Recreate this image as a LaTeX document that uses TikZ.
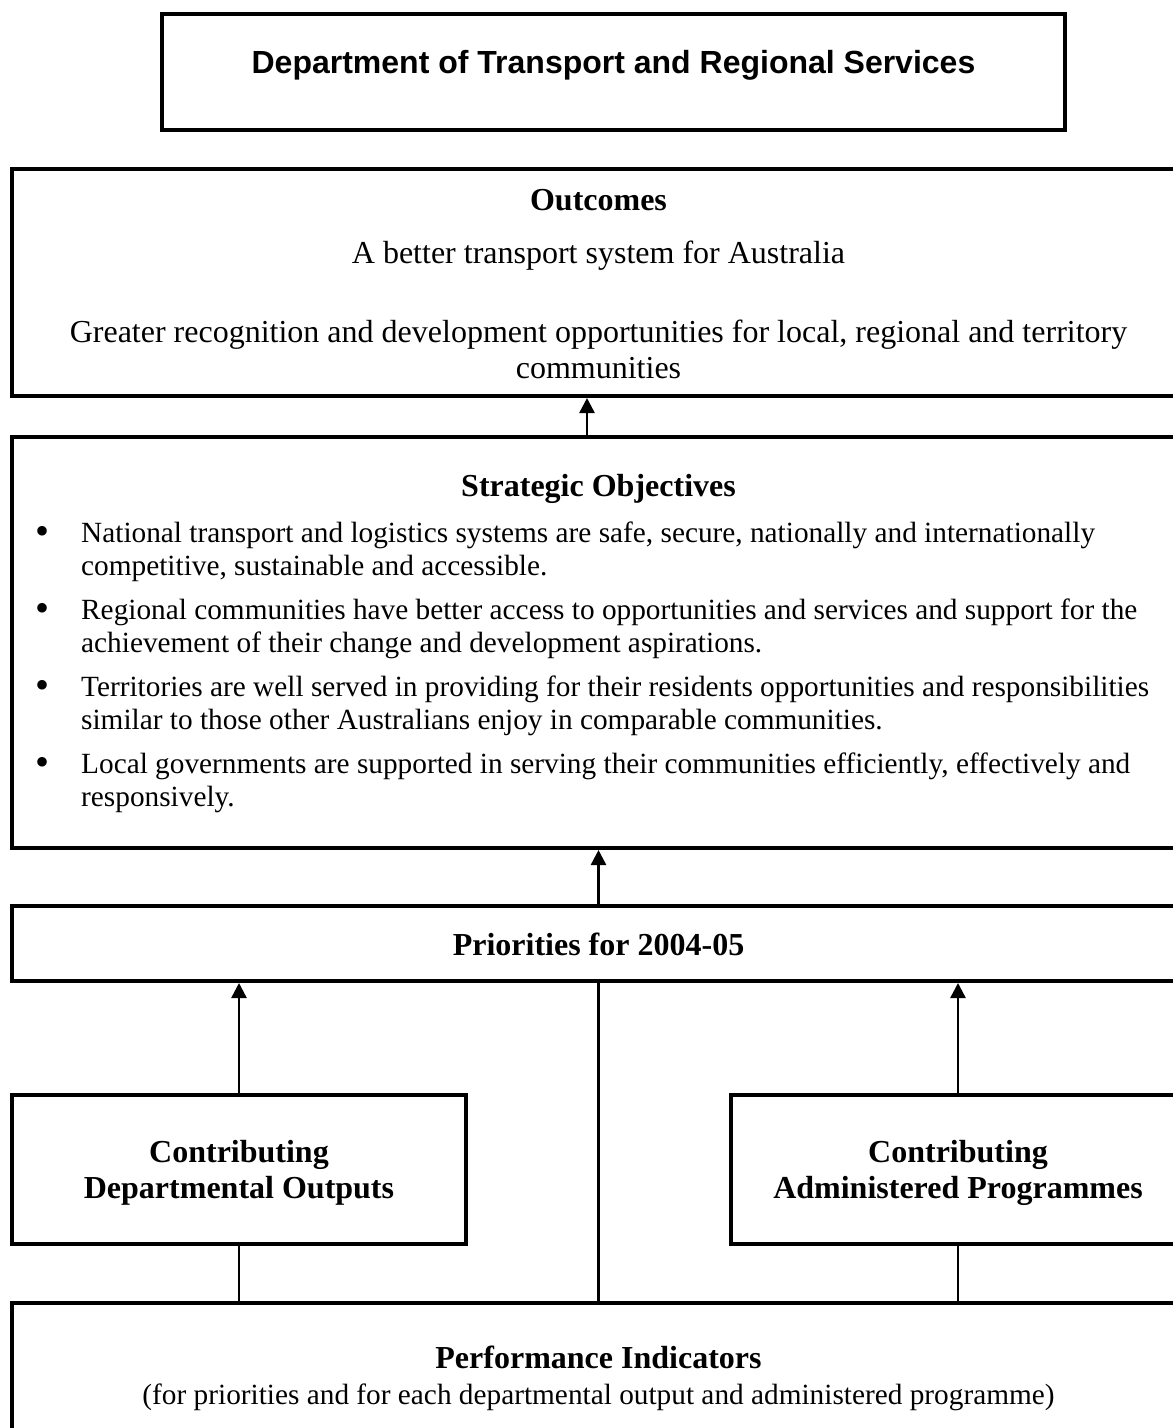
\documentclass[tikz,border=0pt]{standalone}
\usepackage{fontspec}
\setmainfont{Liberation Serif}
\newfontfamily\deptfont{Liberation Sans}
\usetikzlibrary{arrows.meta, positioning}

\begin{document}
\begin{tikzpicture}[x=1pt, y=-1pt,
  box/.style={draw, line width=4pt, inner sep=0pt, minimum width=1173pt},
  sidebox/.style={box, minimum width=454pt, minimum height=149pt},
  txt/.style={anchor=base, font=\fontsize{32}{37}\selectfont},
  smalltxt/.style={anchor=base, font=\fontsize{29.3}{34}\selectfont},
  itemtxt/.style={anchor=base west, inner sep=0pt, font=\fontsize{29.3}{34}\selectfont},
  bullet/.style={anchor=base, inner sep=0pt, font=\fontsize{40}{40}\selectfont},
  link/.style={line width=2.5pt},
  uparrow/.style={link, -{Triangle[length=15pt, width=15pt]}}]
  \useasboundingbox (0,0) rectangle (1173,1428);

  % Department heading
  \node[box, minimum width=903pt, minimum height=116pt] (dept) at (613.5,72) {};
  \node[anchor=base, font=\deptfont\bfseries\fontsize{32}{37}\selectfont] (depttitle) at (613.5,73)
    {Department of Transport and Regional Services};

  % Outcomes
  \node[box, minimum height=227pt] (outc) at (598.5,282.5) {};
  \node[txt] (outctitle) at (598.5,210) {\textbf{Outcomes}};
  \node[txt] (outcone) at (598.5,263) {A better transport system for Australia};
  \node[txt] (outctwo) at (598.5,342) {Greater recognition and development opportunities for local, regional and territory};
  \node[txt] (outctwob) at (598.5,378) {communities};

  % Strategic objectives
  \node[box, minimum height=411pt] (strat) at (598.5,642.5) {};
  \node[txt] (strattitle) at (598.5,496) {\textbf{Strategic Objectives}};
  \node[bullet] (bulla) at (43,544) {\textbullet};
  \node[itemtxt] (itema) at (81,542) {National transport and logistics systems are safe, secure, nationally and internationally};
  \node[itemtxt] (itemab) at (81,575) {competitive, sustainable and accessible.};
  \node[bullet] (bullb) at (43,621) {\textbullet};
  \node[itemtxt] (itemb) at (81,619) {Regional communities have better access to opportunities and services and support for the};
  \node[itemtxt] (itembb) at (81,652) {achievement of their change and development aspirations.};
  \node[bullet] (bullc) at (43,698) {\textbullet};
  \node[itemtxt] (itemc) at (81,696) {Territories are well served in providing for their residents opportunities and responsibilities};
  \node[itemtxt] (itemcb) at (81,729) {similar to those other Australians enjoy in comparable communities.};
  \node[bullet] (bulld) at (43,775) {\textbullet};
  \node[itemtxt] (itemd) at (81,773) {Local governments are supported in serving their communities efficiently, effectively and};
  \node[itemtxt] (itemdb) at (81,806) {responsively.};

  % Priorities
  \node[box, minimum height=75pt] (prio) at (598.5,943.5) {};
  \node[txt] (priotitle) at (598.5,955) {\textbf{Priorities for 2004-05}};

  % Contributing outputs and programmes
  \node[sidebox] (dout) at (239,1169.5) {};
  \node[txt] (douta) at (239,1162) {\textbf{Contributing}};
  \node[txt] (doutb) at (239,1198) {\textbf{Departmental Outputs}};
  \node[sidebox] (aprog) at (958,1169.5) {};
  \node[txt] (aproga) at (958,1162) {\textbf{Contributing}};
  \node[txt] (aprogb) at (958,1198) {\textbf{Administered Programmes}};

  % Performance indicators
  \node[box, minimum height=157pt] (perf) at (598.5,1381.5) {};
  \node[txt] (perftitle) at (598.5,1368) {\textbf{Performance Indicators}};
  \node[smalltxt] (perfnote) at (598.5,1404)
    {(for priorities and for each departmental output and administered programme)};

  % Connectors
  \draw[uparrow] ([xshift=-11.5pt]strat.north) -- ([xshift=-11.5pt]outc.south);
  \draw[uparrow] (prio.north) -- (strat.south);
  \draw[uparrow] (dout.north) -- (dout.north |- prio.south);
  \draw[uparrow] (aprog.north) -- (aprog.north |- prio.south);
  \draw[link] (prio.south) -- (perf.north);
  \draw[link] (dout.south) -- (dout.south |- perf.north);
  \draw[link] (aprog.south) -- (aprog.south |- perf.north);
\end{tikzpicture}
\end{document}
